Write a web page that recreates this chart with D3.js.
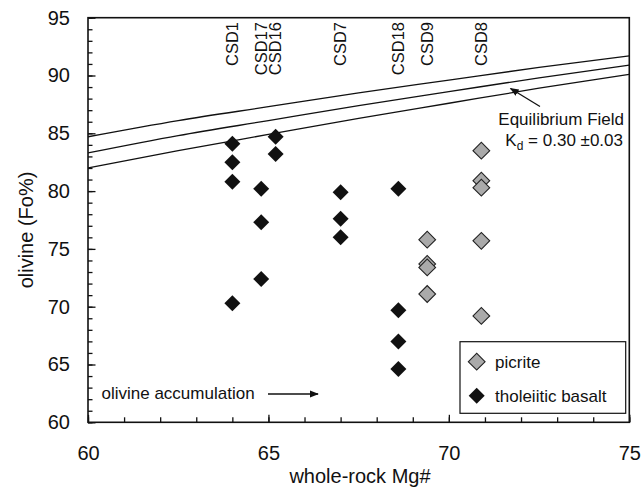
<!DOCTYPE html>
<html>
<head>
<meta charset="utf-8">
<script src="https://cdn.jsdelivr.net/npm/d3@7"></script>
<style>
  body { margin: 0; background: #fff; }
  text { font-family: "Liberation Sans", Arial, sans-serif; fill: #111; }
</style>
</head>
<body>
<div id="chart"></div>
<script>
var w = 644;
var h = 490;

// samples (label position on x axis)
var sampleNames = ['CSD1', 'CSD17', 'CSD16', 'CSD7', 'CSD18', 'CSD9', 'CSD8'];
var sampleMg = [64.0, 64.8, 65.2, 67.0, 68.6, 69.4, 70.9];

// tholeiitic basalt olivines
var tholMg = [64.0, 64.0, 64.0, 64.0, 64.8, 64.8, 64.8, 65.2, 65.2, 67.0, 67.0, 67.0, 68.6, 68.6, 68.6, 68.6];
var tholFo = [84.1, 82.5, 80.8, 70.3, 80.2, 77.3, 72.4, 84.7, 83.2, 79.9, 77.6, 76.0, 80.2, 69.7, 67.0, 64.6];

// picrite olivines
var picMg = [69.4, 69.4, 69.4, 69.4, 70.9, 70.9, 70.9, 70.9, 70.9];
var picFo = [75.8, 73.7, 73.4, 71.1, 83.5, 80.9, 80.3, 75.7, 69.2];

// equilibrium field lines (Kd 0.27 / 0.30 / 0.33)
var eqMg = [60, 62.5, 65, 67.5, 70, 72.5, 75];
var eqHigh = [84.7, 86.1, 87.3, 88.5, 89.6, 90.7, 91.7];
var eqMid = [83.3, 84.8, 86.1, 87.4, 88.6, 89.8, 90.9];
var eqLow = [82.0, 83.5, 84.9, 86.3, 87.6, 88.9, 90.1];

var xTicks = [60, 65, 70, 75];
var yTicks = [60, 65, 70, 75, 80, 85, 90, 95];

var plotL = 88, plotR = 629.3, plotT = 17.7, plotB = 422.3;

var svg = d3.select('#chart')
            .append('svg')
            .attr('width', w)
            .attr('height', h);

var x = d3.scaleLinear().domain([60, 75]).range([plotL, plotR]);
var y = d3.scaleLinear().domain([60, 95]).range([plotB, plotT]);

var defs = svg.append('defs');
defs.append('clipPath').attr('id', 'plotclip')
   .append('rect')
   .attr('x', plotL).attr('y', plotT)
   .attr('width', plotR - plotL).attr('height', plotB - plotT);

defs.append('marker')
    .attr('id', 'arrow')
    .attr('viewBox', '0 0 10 10')
    .attr('refX', 9).attr('refY', 5)
    .attr('markerWidth', 9).attr('markerHeight', 9)
    .attr('markerUnits', 'userSpaceOnUse')
    .attr('orient', 'auto')
    .append('path')
    .attr('d', 'M0,1 L10,5 L0,9 Z')
    .attr('fill', '#111');

// minor ticks
svg.append('g')
   .attr('transform', 'translate(0,' + plotB + ')')
   .call(d3.axisBottom(x).ticks(15).tickSizeInner(-5).tickSizeOuter(0).tickFormat(''))
   .call(function(g){ g.select('.domain').remove(); });
svg.append('g')
   .attr('transform', 'translate(' + plotL + ',0)')
   .call(d3.axisLeft(y).ticks(35).tickSizeInner(-4.5).tickSizeOuter(0).tickFormat(''))
   .call(function(g){ g.select('.domain').remove(); });

// major ticks + labels
var xAxis = svg.append('g')
   .attr('transform', 'translate(0,' + plotB + ')')
   .call(d3.axisBottom(x).tickValues(xTicks).tickSizeInner(-7.5).tickSizeOuter(0).tickPadding(24));
var yAxis = svg.append('g')
   .attr('transform', 'translate(' + plotL + ',0)')
   .call(d3.axisLeft(y).tickValues(yTicks).tickSizeInner(-7.5).tickSizeOuter(0).tickPadding(18));

[xAxis, yAxis].forEach(function(g){
    g.select('.domain').remove();
    g.selectAll('text').style('font-size', '20px').style('font-family', '"Liberation Sans", Arial, sans-serif').attr('fill', '#111');
});
svg.selectAll('.tick line').attr('stroke', '#111').attr('stroke-width', 1.3);

// frame
svg.append('rect')
   .attr('x', plotL).attr('y', plotT)
   .attr('width', plotR - plotL).attr('height', plotB - plotT)
   .attr('fill', 'none')
   .attr('stroke', '#111')
   .attr('stroke-width', 1.6);

// equilibrium lines
var line = d3.line()
             .x(function(d){ return x(d[0]); })
             .y(function(d){ return y(d[1]); })
             .curve(d3.curveMonotoneX);

var eqG = svg.append('g').attr('clip-path', 'url(#plotclip)');
[eqHigh, eqMid, eqLow].forEach(function(arr){
    eqG.append('path')
       .attr('d', line(eqMg.map(function(m, i){ return [m, arr[i]]; })))
       .attr('fill', 'none')
       .attr('stroke', '#111')
       .attr('stroke-width', 1.3);
});

var diamond = function(size){ return d3.symbol().type(d3.symbolSquare).size(size)(); };

// tholeiitic basalt
svg.append('g').selectAll('path')
   .data(tholMg)
   .enter()
   .append('path')
   .attr('d', diamond(128))
   .attr('transform', function(d, i){ return 'translate(' + x(d) + ',' + y(tholFo[i]) + ') rotate(45)'; })
   .attr('fill', '#111');

// picrite
svg.append('g').selectAll('path')
   .data(picMg)
   .enter()
   .append('path')
   .attr('d', diamond(140))
   .attr('transform', function(d, i){ return 'translate(' + x(d) + ',' + y(picFo[i]) + ') rotate(45)'; })
   .attr('fill', '#aaaaaa')
   .attr('stroke', '#222')
   .attr('stroke-width', 1.1);

// sample labels
svg.append('g').selectAll('text')
   .data(sampleNames)
   .enter()
   .append('text')
   .attr('transform', function(d, i){ return 'translate(' + x(sampleMg[i]) + ',22) rotate(-90)'; })
   .attr('text-anchor', 'end')
   .attr('dy', '0.35em')
   .style('font-size', '16.5px')
   .text(function(d){ return d; });

// equilibrium annotation
svg.append('line')
   .attr('x1', 540).attr('y1', 106.5)
   .attr('x2', 510.5).attr('y2', 88.5)
   .attr('stroke', '#111').attr('stroke-width', 1.3)
   .attr('marker-end', 'url(#arrow)');

svg.append('text')
   .attr('x', 624).attr('y', 125)
   .attr('text-anchor', 'end')
   .style('font-size', '17px')
   .text('Equilibrium Field');

var kd = svg.append('text')
   .attr('x', 623).attr('y', 145.5)
   .attr('text-anchor', 'end')
   .style('font-size', '17px');
kd.append('tspan').text('K');
kd.append('tspan').attr('dy', 4).style('font-size', '12px').text('d');
kd.append('tspan').attr('dy', -4).text(' = 0.30 \u00b10.03');

// olivine accumulation
svg.append('text')
   .attr('x', 101.5).attr('y', 398.5)
   .style('font-size', '17px')
   .text('olivine accumulation');
svg.append('line')
   .attr('x1', 268).attr('y1', 394)
   .attr('x2', 318).attr('y2', 394)
   .attr('stroke', '#111').attr('stroke-width', 1.3)
   .attr('marker-end', 'url(#arrow)');

// legend
svg.append('rect')
   .attr('x', 460).attr('y', 341.7)
   .attr('width', 165.7).attr('height', 71.6)
   .attr('fill', '#fff')
   .attr('stroke', '#111')
   .attr('stroke-width', 1.2);

svg.append('path')
   .attr('d', diamond(140))
   .attr('transform', 'translate(476.7,361.7) rotate(45)')
   .attr('fill', '#aaaaaa').attr('stroke', '#222').attr('stroke-width', 1.1);
svg.append('text').attr('x', 495).attr('y', 367.5).style('font-size', '17px').text('picrite');

svg.append('path')
   .attr('d', diamond(128))
   .attr('transform', 'translate(476.7,395.7) rotate(45)')
   .attr('fill', '#111');
svg.append('text').attr('x', 495).attr('y', 401.5).style('font-size', '17px').text('tholeiitic basalt');

// axis titles
svg.append('text')
   .attr('x', 360).attr('y', 482.5)
   .attr('text-anchor', 'middle')
   .style('font-size', '20px')
   .text('whole-rock Mg#');

svg.append('text')
   .attr('transform', 'translate(33,230) rotate(-90)')
   .attr('text-anchor', 'middle')
   .style('font-size', '20px')
   .text('olivine (Fo%)');
</script>
</body>
</html>
